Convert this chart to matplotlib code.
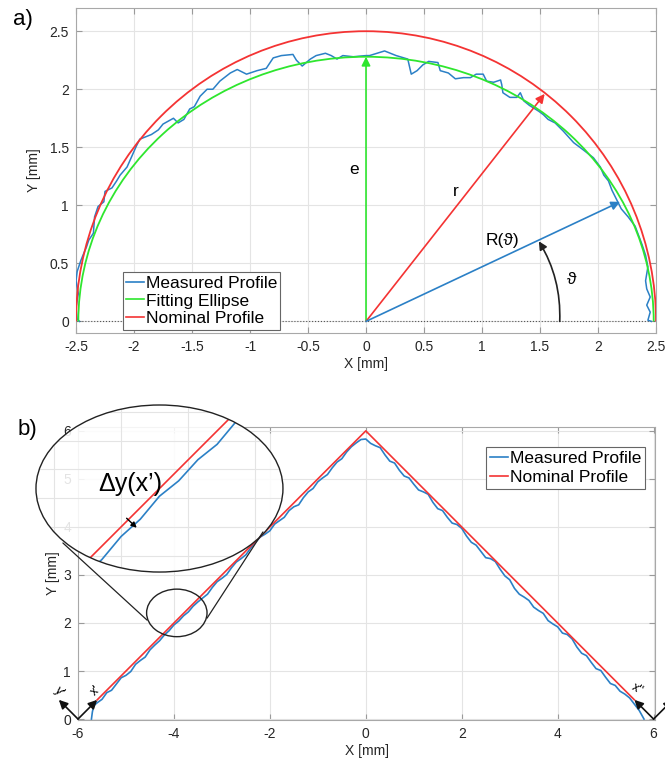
import numpy as np
import matplotlib
matplotlib.use('Agg')
import matplotlib.pyplot as plt
from matplotlib.patches import Arc, Ellipse, FancyArrowPatch, ConnectionPatch
from matplotlib.lines import Line2D
from matplotlib.ticker import MultipleLocator, FuncFormatter

plt.rcParams['font.family'] = ['Liberation Sans', 'DejaVu Sans']
plt.rcParams['axes.unicode_minus'] = False

# ---- a) round profile (mm) ----
meas_a_x = [-2.47, -2.49, -2.50, -2.48, -2.50, -2.49, -2.46, -2.44, -2.41, -2.39, -2.35, -2.34,
            -2.31, -2.26, -2.25, -2.19, -2.15, -2.12, -2.06, -2.02, -1.98, -1.95, -1.85, -1.79,
            -1.75, -1.66, -1.62, -1.57, -1.52, -1.48, -1.43, -1.37, -1.32, -1.26, -1.17, -1.11,
            -1.03, -0.94, -0.86, -0.80, -0.73, -0.63, -0.60, -0.55, -0.48, -0.43, -0.35, -0.30,
            -0.25, -0.20, -0.11, 0.00, 0.03, 0.16, 0.26, 0.36, 0.39, 0.44, 0.49, 0.54, 0.62, 0.64,
            0.71, 0.77, 0.84, 0.90, 0.95, 1.01, 1.04, 1.10, 1.16, 1.17, 1.18, 1.24, 1.30, 1.33,
            1.36, 1.41, 1.49, 1.53, 1.57, 1.63, 1.70, 1.79, 1.87, 1.96, 2.02, 2.05, 2.09, 2.12,
            2.16, 2.20, 2.26, 2.32, 2.35, 2.38, 2.41, 2.43, 2.41, 2.42, 2.45, 2.42, 2.45, 2.43, 2.46]
meas_a_y = [0.00, 0.02, 0.12, 0.24, 0.35, 0.43, 0.52, 0.57, 0.64, 0.70, 0.76, 0.90,
            0.99, 1.03, 1.12, 1.15, 1.21, 1.26, 1.33, 1.42, 1.51, 1.57, 1.61, 1.65,
            1.70, 1.75, 1.71, 1.74, 1.83, 1.85, 1.94, 2.00, 2.00, 2.07, 2.14, 2.17,
            2.13, 2.16, 2.18, 2.27, 2.29, 2.30, 2.25, 2.20, 2.26, 2.29, 2.31, 2.29,
            2.26, 2.29, 2.28, 2.29, 2.29, 2.33, 2.29, 2.26, 2.13, 2.16, 2.21, 2.24, 2.23, 2.16,
            2.14, 2.09, 2.10, 2.10, 2.13, 2.13, 2.07, 2.06, 2.08, 2.04, 1.97, 1.93, 1.93, 1.97,
            1.90, 1.86, 1.81, 1.78, 1.74, 1.71, 1.64, 1.54, 1.48, 1.41, 1.33, 1.26, 1.21, 1.13,
            1.05, 0.97, 0.90, 0.82, 0.74, 0.66, 0.57, 0.47, 0.35, 0.28, 0.21, 0.14, 0.08, 0.01, 0.00]
nominal_r = 2.5
ellipse_a = 2.48
ellipse_e = 2.28
r_tip = (1.54, 1.96)
R_tip = (2.19, 1.03)
theta_start = (1.67, 0.0)
theta_end = (1.49, 0.69)

# ---- b) V profile ----
nom_b_x = [-5.6, 0.0, 5.6]
nom_b_y = [0.4, 6.0, 0.4]
apex = 6.0
left_start_x = [-5.72, -5.70, -5.67]
left_start_dev = [0.28, 0.15, 0.05]
left_x = np.round(np.arange(-5.6, -0.05, 0.1), 2)
left_dev = [0.06, 0.09, 0.05, 0.10, 0.07, 0.04, 0.09, 0.11, 0.06, 0.08, 0.11, 0.06, 0.06, 0.07,
            0.05, 0.06, 0.04, 0.06, 0.05, 0.07, 0.05, 0.06, 0.08, 0.10, 0.06, 0.04, 0.07, 0.09,
            0.05, 0.03, 0.06, 0.08, 0.04, 0.02, 0.01, 0.05, 0.08, 0.04, 0.07, 0.10, 0.06, 0.08,
            0.14, 0.09, 0.07, 0.10, 0.06, 0.08, 0.11, 0.07, 0.05, 0.08, 0.04, 0.03, 0.05, 0.08]
right_x = np.round(np.arange(0.0, 5.85, 0.1), 2)
right_dev = [0.17, 0.16, 0.11, 0.05, 0.10, 0.13, 0.07, 0.12, 0.14, 0.08, 0.11, 0.13, 0.07, 0.02,
             0.09, 0.12, 0.06, 0.10, 0.12, 0.05, 0.03, 0.09, 0.12, 0.08, 0.11, 0.14, 0.06, 0.02,
             0.08, 0.12, 0.10, 0.18, 0.20, 0.16, 0.13, 0.17, 0.14, 0.10, 0.15, 0.12, 0.08, 0.11,
             0.04, 0.03, 0.10, 0.13, 0.08, 0.12, 0.15, 0.09, 0.13, 0.16, 0.10, 0.12, 0.08, 0.06,
             0.09, 0.12, 0.20]

meas_b_x = np.concatenate([left_start_x, left_x, right_x])
meas_b_dev = np.concatenate([left_start_dev, left_dev, right_dev])
meas_b_y = apex - np.abs(meas_b_x) - meas_b_dev

blue = '#2b80c6'
green = '#2ee62e'
red = '#f43333'
txt = '#262626'


def style(ax):
    ax.grid(True, color='#e4e4e4', lw=0.8)
    ax.set_axisbelow(True)
    for s in ax.spines.values():
        s.set_color('#a8a8a8')
        s.set_linewidth(0.8)
    ax.tick_params(direction='in', top=True, right=True, length=4, width=0.8,
                   color='#9a9a9a', labelsize=10, labelcolor=txt, pad=5)
    fmt = FuncFormatter(lambda v, p: '%g' % round(v, 3))
    ax.xaxis.set_major_formatter(fmt)
    ax.yaxis.set_major_formatter(fmt)


fig = plt.figure(figsize=(6.65, 7.62), dpi=100)

# ---------------- a) ----------------
ax1 = fig.add_axes([0.1143, 0.563, 0.8722, 0.4265])
style(ax1)
ax1.set_xlim(-2.5, 2.5)
ax1.set_ylim(-0.1, 2.7)
ax1.xaxis.set_major_locator(MultipleLocator(0.5))
ax1.yaxis.set_major_locator(MultipleLocator(0.5))
ax1.axhline(0, color='#555555', lw=0.8, ls=':', zorder=1)
ax1.plot(meas_a_x, meas_a_y, color=blue, lw=1.1, zorder=3)
ax1.add_patch(Arc((0, 0), 2 * ellipse_a, 2 * ellipse_e, theta1=0, theta2=180,
                  color=green, lw=1.3, zorder=4))
ax1.add_patch(Arc((0, 0), 2 * nominal_r, 2 * nominal_r, theta1=0, theta2=180,
                  color=red, lw=1.3, zorder=4))

def arrow(ax, start, end, color, **kw):
    ax.annotate('', xy=end, xytext=start, annotation_clip=False,
                arrowprops=dict(arrowstyle='-|>', color=color, lw=1.2,
                                mutation_scale=13, shrinkA=0, shrinkB=0, **kw))

arrow(ax1, (0, 0), (0, ellipse_e), green)
arrow(ax1, (0, 0), r_tip, red)
arrow(ax1, (0, 0), R_tip, blue)
ax1.add_patch(FancyArrowPatch(theta_start, theta_end, connectionstyle='arc3,rad=0.15',
                              arrowstyle='-|>', mutation_scale=12, color='#222222', lw=1.2,
                              shrinkA=0, shrinkB=0, zorder=5))
ax1.text(-0.1, 1.31, 'e', fontsize=12.5, ha='center', va='center', color='k')
ax1.text(0.77, 1.12, 'r', fontsize=12.5, ha='center', va='center', color='k')
ax1.text(1.18, 0.70, 'R(ϑ)', fontsize=12.5, ha='center', va='center', color='k')
ax1.text(1.77, 0.36, 'ϑ', fontsize=12.5, ha='center', va='center', color='k')

handles_a = [Line2D([], [], color=blue, lw=1.2), Line2D([], [], color=green, lw=1.2),
             Line2D([], [], color=red, lw=1.2)]
leg = ax1.legend(handles_a, ['Measured Profile', 'Fitting Ellipse', 'Nominal Profile'],
                 loc='lower left', bbox_to_anchor=(0.081, 0.01), fontsize=12.5,
                 handlelength=1.0, handletextpad=0.1, borderpad=0.2, labelspacing=0.15,
                 fancybox=False, edgecolor='#666666', framealpha=1, borderaxespad=0)
leg.get_frame().set_linewidth(0.8)
ax1.set_xlabel('X [mm]', fontsize=10, color=txt, labelpad=2)
ax1.set_ylabel('Y [mm]', fontsize=10, color=txt, labelpad=6)

# ---------------- b) ----------------
ax2 = fig.add_axes([0.1173, 0.0551, 0.8677, 0.3845])
style(ax2)
ax2.set_xlim(-6, 6.03)
ax2.set_ylim(-0.02, 6.08)
ax2.xaxis.set_major_locator(MultipleLocator(2))
ax2.yaxis.set_major_locator(MultipleLocator(1))
ax2.plot(meas_b_x, meas_b_y, color=blue, lw=1.2, label='Measured Profile', zorder=3)
ax2.plot(nom_b_x, nom_b_y, color=red, lw=1.2, label='Nominal Profile', zorder=4)
leg2 = ax2.legend(loc='upper right', bbox_to_anchor=(0.983, 0.933), fontsize=12.5,
                  handlelength=1.0, handletextpad=0.1, borderpad=0.25, labelspacing=0.2,
                  fancybox=False, edgecolor='#666666', framealpha=1, borderaxespad=0)
leg2.get_frame().set_linewidth(0.8)
ax2.set_xlabel('X [mm]', fontsize=10, color=txt, labelpad=2)
ax2.set_ylabel('Y [mm]', fontsize=10, color=txt, labelpad=2)

# local coordinate systems at the corners
arrow(ax2, (-6, 0), (nom_b_x[0], nom_b_y[0]), '#111111')
arrow(ax2, (-6, 0), (-6.4, 0.4), '#111111')
arrow(ax2, (6, 0), (nom_b_x[-1], nom_b_y[-1]), '#111111')
arrow(ax2, (6, 0), (6.4, 0.4), '#111111')
ax2.text(-5.63, 0.58, "x'", fontsize=9, rotation=45, ha='center', va='center')
ax2.text(-6.38, 0.56, "y'", fontsize=9, rotation=-45, ha='center', va='center', clip_on=False)
ax2.text(5.66, 0.62, "x''", fontsize=9, rotation=-30, ha='center', va='center')

# zoomed detail
ax2.add_patch(Ellipse((-3.94, 2.21), 1.26, 0.99, fc='none', ec='#222222', lw=1.0, zorder=6))

axin = fig.add_axes([0.0541, 0.2493, 0.3714, 0.2192])
axin.set_xlim(-4.643, -3.357)
axin.set_ylim(1.565, 2.435)
axin.axis('off')
big = Ellipse((0.5, 0.5), 1, 1, transform=axin.transAxes, fc='white', ec='none', alpha=0.88)
axin.add_patch(big)
for v in MultipleLocator(0.35).tick_values(-4.643, -3.357):
    gl = axin.axvline(v, color='#e4e4e4', lw=0.8)
    gl.set_clip_path(big)
for v in MultipleLocator(0.15).tick_values(1.565, 2.435):
    gl = axin.axhline(v, color='#e4e4e4', lw=0.8)
    gl.set_clip_path(big)
lb, = axin.plot(meas_b_x, meas_b_y, color=blue, lw=1.2)
lr, = axin.plot(nom_b_x, nom_b_y, color=red, lw=1.2)
lb.set_clip_path(big)
lr.set_clip_path(big)
axin.add_patch(Ellipse((0.5, 0.5), 1, 1, transform=axin.transAxes, fc='none', ec='#222222',
                       lw=1.0, clip_on=False, zorder=6))
axin.text(0.38, 0.53, 'Δy(x’)', transform=axin.transAxes, fontsize=18,
          ha='center', va='center', color='k')
axin.annotate('', xy=(0.408, 0.265), xytext=(0.367, 0.322), xycoords='axes fraction',
              textcoords='axes fraction',
              arrowprops=dict(arrowstyle='-|>', color='k', lw=1.0, mutation_scale=8,
                              shrinkA=0, shrinkB=0))

for a_pt, b_pt in [((-4.56, 2.06), (0.109, 0.174)), ((-3.31, 2.10), (0.919, 0.24))]:
    fig.add_artist(ConnectionPatch(xyA=a_pt, coordsA=ax2.transData, xyB=b_pt,
                                   coordsB=axin.transAxes, color='#222222', lw=0.9))

fig.text(0.02, 0.974, 'a)', fontsize=16, ha='left', va='center')
fig.text(0.026, 0.437, 'b)', fontsize=16, ha='left', va='center')

fig.savefig('out.png', dpi=100)
